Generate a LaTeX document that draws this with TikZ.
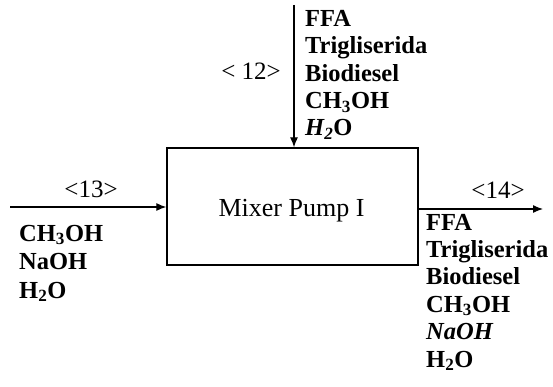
\documentclass[tikz,border=0pt]{standalone}
\usepackage{fontspec}
\setmainfont{Liberation Serif}
\usetikzlibrary{arrows.meta}
\tikzset{
  arr/.style={line width=1.2pt,-{Latex[length=10pt,width=8pt]}},
  listtxt/.style={anchor=base west,inner sep=0pt,align=left,font=\fontsize{24.5}{27.4}\selectfont\bfseries},
  streamlbl/.style={anchor=base,inner sep=0pt,font=\fontsize{25}{28}\selectfont},
  unitbox/.style={draw,line width=1.3pt,minimum width=251pt,minimum height=117pt,inner sep=0pt}
}
\begin{document}
\begin{tikzpicture}[x=1pt,y=-1pt]
\useasboundingbox (0,0) rectangle (553,387);
\node[unitbox] (mixer) at (292.5,206.5) {};
\node[anchor=base,inner sep=0pt,font=\fontsize{26}{28}\selectfont] (title) at (291.5,216) {Mixer Pump I};
% top stream
\coordinate (t) at (294,5);
\draw[arr] (t) -- (t |- mixer.north);
\node[listtxt] (toplist) at (305,136) {FFA\\Trigliserida\\Biodiesel\\CH\textsubscript{3}OH\\{\itshape H\textsubscript{2}}O};
\node[streamlbl] (s12) at (251,80) {< 12>};
% left stream
\coordinate (l) at (10,207);
\draw[arr] (l) -- (l -| mixer.west);
\node[streamlbl] (s13) at (91,197) {<13>};
\node[listtxt,font=\fontsize{24.5}{28.5}\selectfont\bfseries] (leftlist) at (19,298) {CH\textsubscript{3}OH\\NaOH\\H\textsubscript{2}O};
% right stream
\coordinate (r) at (543,209);
\draw[arr] (mixer.east |- r) -- (r);
\node[streamlbl] (s14) at (498,198) {<14>};
\node[listtxt] (rightlist) at (426,367) {FFA\\Trigliserida\\Biodiesel\\CH\textsubscript{3}OH\\{\itshape NaOH}\\H\textsubscript{2}O};
\end{tikzpicture}
\end{document}
